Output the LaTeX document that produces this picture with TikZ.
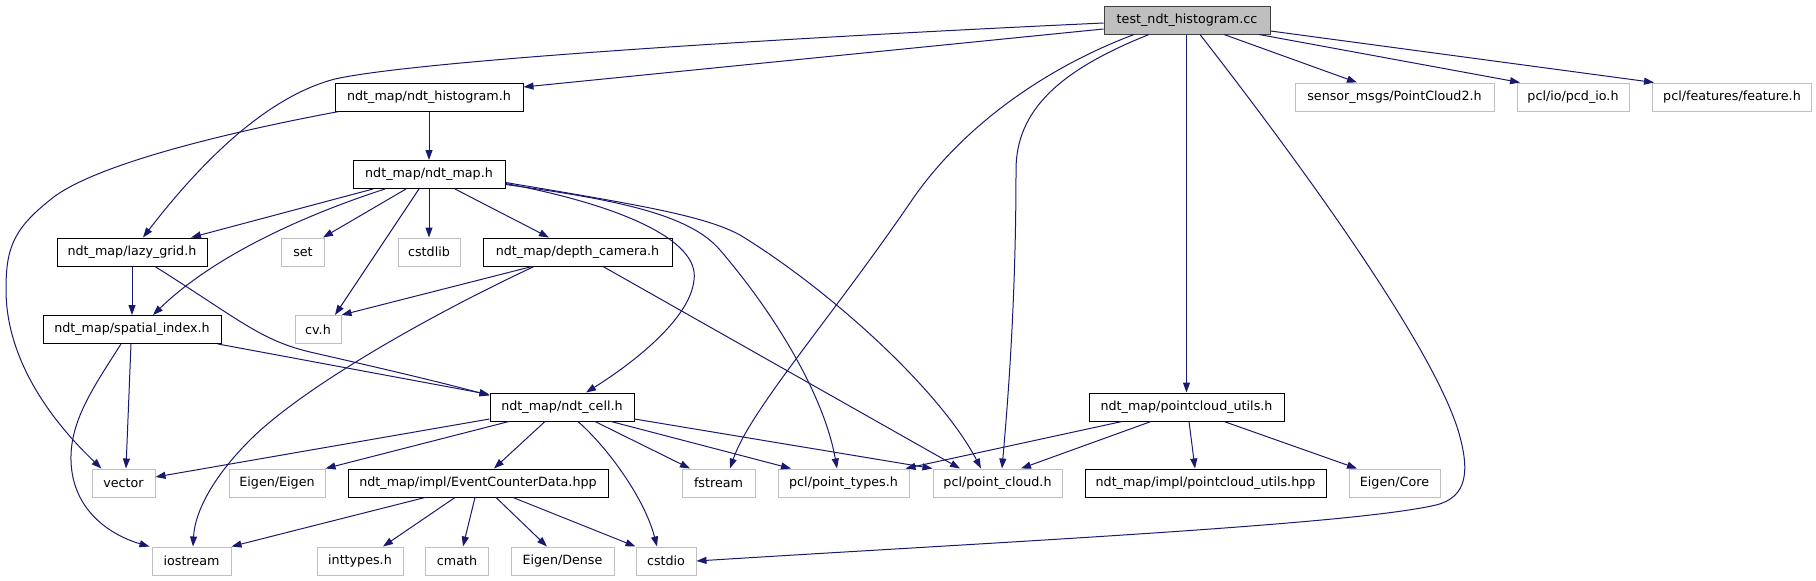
\documentclass[tikz,border=0pt]{standalone}
\usepackage{fontspec}
\usetikzlibrary{arrows.meta}
\newfontfamily\dejavu{DejaVu Sans}
\definecolor{edgeblue}{HTML}{191970}
\definecolor{extgray}{HTML}{BFBFBF}
\tikzset{
  base/.style={draw, line width=1pt, minimum height=28, inner xsep=1pt, inner ysep=0pt,
    font={\dejavu\fontsize{12.7}{15}\selectfont}, text=black, anchor=center},
  doc/.style={base, draw=black},
  ext/.style={base, draw=extgray},
  mainfile/.style={base, draw=black!75, fill=extgray},
  edge/.style={draw=edgeblue, line width=1pt, -{Triangle[length=10pt,width=7pt]}}
}
\begin{document}
\begin{tikzpicture}[x=1pt,y=-1pt]
\useasboundingbox (0,0) rectangle (1816,581);
% nodes
\node[mainfile, minimum width=166] (test) at (1187,20) {test\_ndt\_histogram.cc};
\node[doc, minimum width=188] (hist) at (429,97) {ndt\_map/ndt\_histogram.h};
\node[ext, minimum width=199] (sensor) at (1394.5,97) {sensor\_msgs/PointCloud2.h};
\node[ext, minimum width=112] (pcdio) at (1573,97) {pcl/io/pcd\_io.h};
\node[ext, minimum width=159] (feature) at (1732,97) {pcl/features/feature.h};
\node[doc, minimum width=152] (map) at (429,174.5) {ndt\_map/ndt\_map.h};
\node[doc, minimum width=150] (lazy) at (132,252) {ndt\_map/lazy\_grid.h};
\node[ext, minimum width=43] (set) at (303,252) {set};
\node[ext, minimum width=62] (cstdlib) at (429,252) {cstdlib};
\node[doc, minimum width=189] (depth) at (577.5,252) {ndt\_map/depth\_camera.h};
\node[doc, minimum width=178] (spatial) at (132,329.5) {ndt\_map/spatial\_index.h};
\node[ext, minimum width=46] (cvh) at (318,329.5) {cv.h};
\node[doc, minimum width=144] (cell) at (562,407) {ndt\_map/ndt\_cell.h};
\node[doc, minimum width=195] (pcu) at (1186.5,407) {ndt\_map/pointcloud\_utils.h};
\node[ext, minimum width=63] (vector) at (123.5,483) {vector};
\node[ext, minimum width=96] (eigen) at (277,483) {Eigen/Eigen};
\node[doc, minimum width=260] (ecd) at (478,483) {ndt\_map/impl/EventCounterData.hpp};
\node[ext, minimum width=73] (fstream) at (718.5,483) {fstream};
\node[ext, minimum width=131] (ptypes) at (843.5,483) {pcl/point\_types.h};
\node[ext, minimum width=129] (pcloud) at (997.5,483) {pcl/point\_cloud.h};
\node[doc, minimum width=241] (pcuhpp) at (1205.5,483) {ndt\_map/impl/pointcloud\_utils.hpp};
\node[ext, minimum width=91] (ecore) at (1394.5,483) {Eigen/Core};
\node[ext, minimum width=79] (iostream) at (191.5,561) {iostream};
\node[ext, minimum width=86] (inttypes) at (360,561) {inttypes.h};
\node[ext, minimum width=63] (cmath) at (457,561) {cmath};
\node[ext, minimum width=103] (edense) at (562.5,561) {Eigen/Dense};
\node[ext, minimum width=60] (cstdio) at (666,561) {cstdio};
% edges from test
\draw[edge] ([yshift=-3]test.west) .. controls (800,37) and (420,60) .. (335,79) .. controls (262,98) and (195,170) .. ([xshift=11]lazy.north);
\draw[edge] ([yshift=-9]test.west) -- ([yshift=10]hist.east);
\draw[edge] ([xshift=-53]test.south) .. controls (1040,70) and (960,130) .. (912,200) .. controls (830,320) and (750,410) .. ([xshift=11.5]fstream.north);
\draw[edge] ([xshift=-38]test.south) .. controls (1060,70) and (1016,110) .. (1016,170) .. controls (1016,300) and (1008,400) .. ([xshift=4.5]pcloud.north);
\draw[edge] ([xshift=-0.5]test.south) -- (pcu.north);
\draw[edge] ([xshift=13]test.south) .. controls (1290,150) and (1430,340) .. (1458,430) .. controls (1470,470) and (1468,497) .. (1436,505) .. controls (1350,525) and (1000,542) .. (cstdio.east);
\draw[edge] ([xshift=37]test.south) -- ([xshift=-37.5]sensor.north);
\draw[edge] ([xshift=72]test.south) -- ([xshift=-53]pcdio.north);
\draw[edge] ([yshift=-11]test.east) -- ([xshift=-78]feature.north);
% from hist
\draw[edge] (hist.south) -- (map.north);
\draw[edge] ([xshift=-90]hist.south) .. controls (250,128) and (95,162) .. (50,200) .. controls (12,230) and (6,250) .. (6,290) .. controls (6,350) and (40,410) .. ([xshift=-22]vector.north);
% from map
\draw[edge] ([xshift=-56]map.south) -- ([xshift=59]lazy.north);
\draw[edge] ([xshift=-44]map.south) .. controls (320,210) and (220,250) .. ([xshift=21]spatial.north);
\draw[edge] ([xshift=-23]map.south) -- ([xshift=20]set.north);
\draw[edge] ([xshift=-10]map.south) -- ([xshift=17]cvh.north);
\draw[edge] (map.south) -- (cstdlib.north);
\draw[edge] ([xshift=26]map.south) -- ([xshift=-28.5]depth.north);
\draw[edge] ([yshift=-9]map.east) .. controls (620,205) and (700,240) .. (694,280) .. controls (690,320) and (630,365) .. ([xshift=24]cell.north);
\draw[edge] ([yshift=-10]map.east) .. controls (620,200) and (690,215) .. (720,250) .. controls (780,320) and (825,400) .. ([xshift=-6.5]ptypes.north);
\draw[edge] ([yshift=-8]map.east) .. controls (640,205) and (705,216) .. (740,235) .. controls (830,290) and (940,390) .. ([xshift=-16.5]pcloud.north);
% from lazy
\draw[edge] (lazy.south) -- (spatial.north);
\draw[edge] ([xshift=23]lazy.south) .. controls (240,320) and (260,340) .. (310,352) .. controls (380,368) and (440,382) .. ([yshift=-3]cell.north west);
% from spatial
\draw[edge] ([xshift=86]spatial.south) -- ([yshift=-2]cell.north west);
\draw[edge] ([xshift=-1]spatial.south) -- ([xshift=2.5]vector.north);
\draw[edge] ([xshift=-11]spatial.south) .. controls (95,385) and (70,420) .. (71,460) .. controls (72,510) and (110,535) .. ([xshift=-2]iostream.north west);
% from depth
\draw[edge] ([xshift=-45.5]depth.south) -- (cvh.north east);
\draw[edge] ([xshift=-43.5]depth.south) .. controls (420,320) and (300,390) .. (250,440) .. controls (215,475) and (195,510) .. ([xshift=1.5]iostream.north);
\draw[edge] ([xshift=25.5]depth.south) -- ([xshift=-37.5]pcloud.north);
% from cell
\draw[edge] ([yshift=-12]cell.west) -- ([yshift=6]vector.east);
\draw[edge] ([xshift=-53]cell.south) -- (eigen.north east);
\draw[edge] ([xshift=-17]cell.south) -- ([xshift=16]ecd.north);
\draw[edge] ([xshift=16]cell.south) .. controls (610,450) and (645,500) .. ([xshift=-9]cstdio.north);
\draw[edge] ([xshift=33]cell.south) -- ([xshift=-28.5]fstream.north);
\draw[edge] ([xshift=49]cell.south) -- ([xshift=-52.5]ptypes.north);
\draw[edge] ([yshift=-12]cell.east) -- (pcloud.north west);
% from ecd
\draw[edge] ([xshift=-53]ecd.south) -- (iostream.north east);
\draw[edge] ([xshift=-23]ecd.south) -- ([xshift=23]inttypes.north);
\draw[edge] ([xshift=-3]ecd.south) -- ([xshift=6]cmath.north);
\draw[edge] ([xshift=18]ecd.south) -- ([xshift=-15.5]edense.north);
\draw[edge] ([xshift=35]ecd.south) -- (cstdio.north west);
% from pcu
\draw[edge] ([xshift=-64.5]pcu.south) -- ([xshift=-4]ptypes.north east);
\draw[edge] ([xshift=-35.5]pcu.south) -- ([xshift=23.5]pcloud.north);
\draw[edge] ([xshift=2.5]pcu.south) -- ([xshift=-10.5]pcuhpp.north);
\draw[edge] ([xshift=37.5]pcu.south) -- ([xshift=-37.5]ecore.north);
\end{tikzpicture}
\end{document}
